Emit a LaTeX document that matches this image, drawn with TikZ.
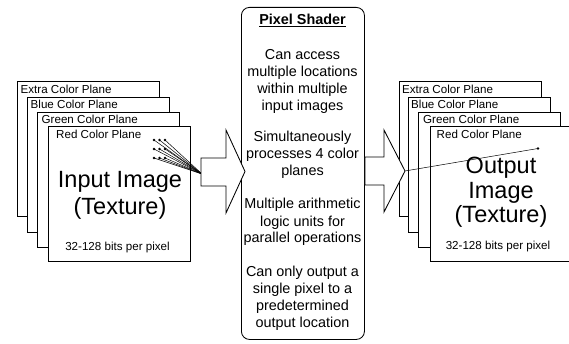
\documentclass[tikz,border=0pt]{standalone}
\usepackage{fontspec}
\setmainfont{Liberation Sans}
\begin{document}
\begin{tikzpicture}[x=1pt,y=-1pt,
  plane/.style={draw=black, fill=white, line width=0.85pt, minimum width=142pt, minimum height=135pt, inner sep=0pt, outer sep=0pt, anchor=north west},
  plabel/.style={anchor=base west, inner sep=0pt, font=\fontsize{11.6}{14}\selectfont},
  bigtxt/.style={anchor=base, inner sep=0pt, font=\fontsize{23.5}{28}\selectfont},
  smalltxt/.style={anchor=base, inner sep=0pt, font=\fontsize{11.6}{14}\selectfont},
  shtxt/.style={anchor=base, inner sep=0pt, font=\fontsize{14.4}{17}\selectfont},
  bigarrow/.style={draw=black, fill=white, line width=0.85pt, line join=miter},
  fan/.style={line width=0.5pt},
  dotnode/.style={circle, fill=black, inner sep=0pt, minimum size=2.6pt}
]
\useasboundingbox (0,0) rectangle (569,344);

% ---------- left stack ----------
\node[plane] (lE) at (17,81) {};
\node[plabel] (lEt) at (20.5,94) {Extra Color Plane};
\node[plane] (lB) at (27,97) {};
\node[plabel] (lBt) at (30.5,109) {Blue Color Plane};
\node[plane] (lG) at (37,112) {};
\node[plabel] (lGt) at (41.5,124) {Green Color Plane};
\node[plane] (lR) at (48,126) {};
\node[plabel] (lRt) at (56,139) {Red Color Plane};
\node[bigtxt] (lI1) at (120,187.5) {Input Image};
\node[bigtxt] (lI2) at (120,215) {(Texture)};
\node[smalltxt] (lbits) at (117.5,251) {32-128 bits per pixel};

% fan of sampled locations
\coordinate (fanend) at (202,174);
\foreach \i/\x in {1/154,2/159.5,3/165}{
  \foreach \j/\y in {1/140,2/149,3/158}{
    \node[dotnode] (d\i\j) at (\x,\y) {};
    \draw[fan] (d\i\j.center) -- (fanend);
  }
}

% ---------- pixel shader ----------
\node[draw=black, line width=0.85pt, rounded corners=8pt, fill=white, minimum width=123pt, minimum height=332pt, inner sep=0pt, anchor=north west] (ps) at (241,7) {};
\node[shtxt] (t0) at (302.5,25) {\underline{\textbf{Pixel Shader}}};
\node[shtxt] (t1) at (302.5,60) {Can access};
\node[shtxt] (t2) at (302.5,77) {multiple locations};
\node[shtxt] (t3) at (302.5,94) {within multiple};
\node[shtxt] (t4) at (302.5,111) {input images};
\node[shtxt] (t5) at (302.5,142) {Simultaneously};
\node[shtxt] (t6) at (302.5,159) {processes 4 color};
\node[shtxt] (t7) at (302.5,176) {planes};
\node[shtxt] (t8) at (302.5,209) {Multiple arithmetic};
\node[shtxt] (t9) at (302.5,226) {logic units for};
\node[shtxt] (t10) at (302.5,243) {parallel operations};
\node[shtxt] (t11) at (302.5,276) {Can only output a};
\node[shtxt] (t12) at (302.5,293) {single pixel to a};
\node[shtxt] (t13) at (302.5,310) {predetermined};
\node[shtxt] (t14) at (302.5,327) {output location};

% left block arrow
\draw[bigarrow] (201,158) -- (226,158) -- (226,130) -- (245,171.5) -- (226,213) -- (226,186) -- (201,186) -- cycle;

% ---------- right stack ----------
\node[plane] (rE) at (399,81) {};
\node[plabel] (rEt) at (402,94) {Extra Color Plane};
\node[plane] (rB) at (408,97) {};
\node[plabel] (rBt) at (411,109) {Blue Color Plane};
\node[plane] (rG) at (418,112) {};
\node[plabel] (rGt) at (423,124) {Green Color Plane};
\node[plane] (rR) at (430,126) {};
\node[plabel] (rRt) at (436.5,139) {Red Color Plane};
\node[bigtxt] (rO1) at (501,174) {Output};
\node[bigtxt] (rO2) at (501,198.5) {Image};
\node[bigtxt] (rO3) at (501,223) {(Texture)};
\node[smalltxt] (rbits) at (498,250) {32-128 bits per pixel};

% right block arrow
\draw[bigarrow] (ps.east |- 0,157) -- (384,157) -- (384,130) -- (405,171) -- (384,212) -- (384,185) -- (ps.east |- 0,185) -- cycle;
\coordinate (rtip) at (405,171);
\node[dotnode] (rdot) at (538,148.5) {};
\draw[fan] (rtip) -- (rdot.center);
\end{tikzpicture}
\end{document}
